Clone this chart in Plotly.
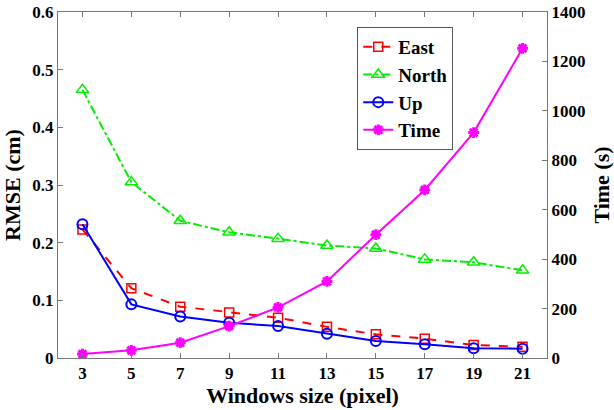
import plotly.graph_objects as go

windows = [3, 5, 7, 9, 11, 13, 15, 17, 19, 21]
east = [0.223, 0.121, 0.089, 0.079, 0.070, 0.054, 0.041, 0.0335, 0.0225, 0.0196]
north = [0.465, 0.305, 0.238, 0.218, 0.207, 0.195, 0.190, 0.171, 0.166, 0.152]
up = [0.232, 0.093, 0.072, 0.061, 0.0555, 0.042, 0.0295, 0.024, 0.017, 0.016]
time_s = [16, 31, 62, 129, 205, 310, 499, 680, 912, 1253]

FONT = "Liberation Serif"
AX = "#777777"
TICKF = dict(family=FONT, size=17, weight="bold", color="black")
TITLEF = dict(family=FONT, size=22, weight="bold", color="black")

fig = go.Figure()
fig.add_trace(go.Scatter(x=windows, y=east, name="East", mode="lines+markers",
                         line=dict(color="#FF0000", width=2, dash="dash"),
                         marker=dict(symbol="square-open", size=9, color="#FF0000", line=dict(width=1.5))))
fig.add_trace(go.Scatter(x=windows, y=north, name="North", mode="lines+markers",
                         line=dict(color="#00EE00", width=2, dash="dashdot"),
                         marker=dict(symbol="triangle-up-open", size=11, color="#00EE00", line=dict(width=1.5))))
fig.add_trace(go.Scatter(x=windows, y=up, name="Up", mode="lines+markers",
                         line=dict(color="#0000FF", width=2),
                         marker=dict(symbol="circle-open", size=10, color="#0000FF", line=dict(width=2))))
fig.add_trace(go.Scatter(x=windows, y=time_s, name="Time", mode="lines+markers", yaxis="y2",
                         line=dict(color="#FF00FF", width=2),
                         marker=dict(symbol="asterisk-open", size=9, color="#FF00FF", line=dict(width=3, color="#FF00FF"))))

fig.update_layout(
    width=614, height=410,
    margin=dict(l=58, r=67, t=12, b=52),
    paper_bgcolor="white", plot_bgcolor="white",
    font=dict(family=FONT, color="black"),
    showlegend=True,
    legend=dict(x=0.612, y=0.957, xanchor="left", yanchor="top",
                bordercolor="#555555", borderwidth=1, bgcolor="white",
                font=dict(family=FONT, size=19, color="black", weight="bold"),
                tracegroupgap=0, itemwidth=30),
    xaxis=dict(range=[2, 22], tickvals=windows, showgrid=False, zeroline=False,
               showline=True, linecolor=AX, linewidth=1, mirror="ticks",
               ticks="inside", ticklen=5, tickcolor=AX, automargin=False,
               tickfont=TICKF,
               title=dict(text="Windows size (pixel)", font=TITLEF, standoff=4)),
    yaxis=dict(range=[0, 0.6], dtick=0.1, showgrid=False, zeroline=False,
               showline=True, linecolor=AX, linewidth=1, automargin=False,
               ticks="inside", ticklen=5, tickcolor=AX,
               tickfont=TICKF,
               title=dict(text="RMSE (cm)", font=TITLEF, standoff=6)),
    yaxis2=dict(range=[0, 1400], dtick=200, overlaying="y", side="right", showgrid=False, zeroline=False,
                showline=True, linecolor=AX, linewidth=1, automargin=False,
                ticks="inside", ticklen=5, tickcolor=AX,
                tickfont=TICKF,
                title=dict(text="Time (s)", font=TITLEF, standoff=10)),
)

fig.write_html("out.html")
